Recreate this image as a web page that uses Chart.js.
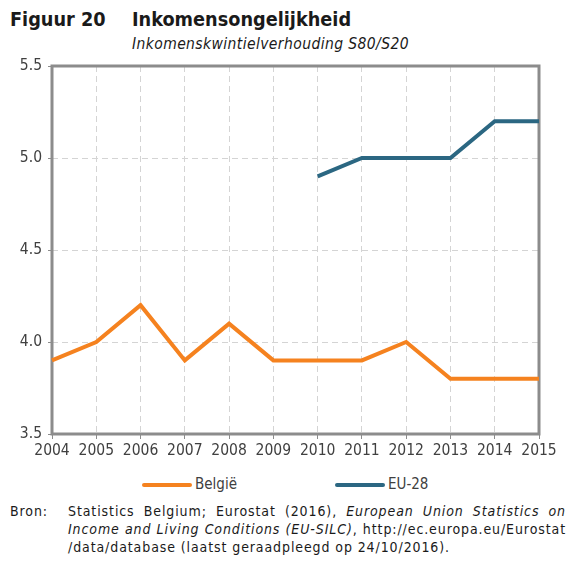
<!DOCTYPE html>
<html>
<head>
<meta charset="utf-8">
<script src="https://cdn.jsdelivr.net/npm/chart.js@4"></script>
<style>
    body { margin: 0; width: 575px; height: 565px; background: #fff; position: relative;
           font-family: "DejaVu Sans Condensed", "DejaVu Sans", sans-serif; color: #1a1a1a; }
    #title { position: absolute; left: 10px; top: 8px; font-size: 19.7px; font-weight: bold; }
    #title span { position: absolute; left: 122px; white-space: nowrap; }
    #subtitle { position: absolute; left: 132px; top: 35px; font-size: 15.5px; font-style: italic;
                white-space: nowrap; letter-spacing: 0.4px; }
    #wrap { position: absolute; left: 0; top: 0; width: 575px; height: 464px; }
    #legend { position: absolute; top: 475px; left: 0; width: 575px; height: 20px; font-size: 15px; color: #404040; }
    #legend .item { position: absolute; top: 0; white-space: nowrap; }
    #legend .sw { display: inline-block; width: 50px; height: 4px; border-radius: 2px; vertical-align: middle; margin-right: 3px; }
    #source { position: absolute; left: 10px; top: 502px; width: 556px; font-size: 14px; line-height: 18px;
              letter-spacing: 0.9px; color: #1a1a1a; }
    #source .lbl { position: absolute; left: 0; top: 0; }
    #source .txt { margin-left: 58px; }
    #source .ln { display: block; white-space: nowrap; }
    #source .j { text-align: justify; text-align-last: justify; white-space: normal; }
</style>
</head>
<body>
<div id="title">Figuur 20<span>Inkomensongelijkheid</span></div>
<div id="subtitle">Inkomenskwintielverhouding S80/S20</div>
<div id="wrap"><canvas id="myChart"></canvas></div>
<div id="legend"></div>
<div id="source">
    <div class="lbl">Bron:</div>
    <div class="txt">
        <span class="ln j">Statistics Belgium; Eurostat (2016), <i>European Union Statistics on</i></span>
        <span class="ln j"><i>Income and Living Conditions (EU-SILC)</i>, http://ec.europa.eu/Eurostat</span>
        <span class="ln">/data/database (laatst geraadpleegd op 24/10/2016).</span>
    </div>
</div>
<script>
// data
const years = ['2004', '2005', '2006', '2007', '2008', '2009', '2010', '2011', '2012', '2013', '2014', '2015'];
const belgie = [3.9, 4.0, 4.2, 3.9, 4.1, 3.9, 3.9, 3.9, 4.0, 3.8, 3.8, 3.8];
const eu28 = [null, null, null, null, null, null, 4.9, 5.0, 5.0, 5.0, 5.2, 5.2];
const seriesNames = ['België', 'EU-28'];

const axisColor = '#8c8c8c';
const gridColor = '#d4d4d4';
const tickColor = '#404040';
const fontFamily = '"DejaVu Sans Condensed", "DejaVu Sans", sans-serif';

// draw the box around the plot area
const frame = {
    id: 'frame',
    beforeDatasetsDraw(chart) {
        const a = chart.chartArea;
        const c = chart.ctx;
        c.save();
        c.strokeStyle = axisColor;
        c.lineWidth = 3;
        c.strokeRect(a.left, a.top, a.right - a.left, a.bottom - a.top);
        c.restore();
    }
};

const ctx = document.getElementById('myChart');
const chart = new Chart(ctx.getContext('2d'), {
    type: 'line',
    data: {
        labels: years,
        datasets: [{
            label: seriesNames[0],
            data: belgie,
            borderColor: '#f5821f',
            borderWidth: 4,
            pointRadius: 0,
            tension: 0
        }, {
            label: seriesNames[1],
            data: eu28,
            borderColor: '#2b6782',
            borderWidth: 4,
            pointRadius: 0,
            tension: 0
        }]
    },
    options: {
        responsive: true,
        maintainAspectRatio: false,
        animation: false,
        layout: { padding: { top: 66, left: 0, right: 0, bottom: 0 } },
        plugins: {
            tooltip: { enabled: false },
            legend: { display: false }
        },
        scales: {
            x: {
                offset: false,
                grid: { color: gridColor, tickLength: 5, tickColor: axisColor },
                border: { display: false, dash: [6, 4] },
                ticks: { color: tickColor, maxRotation: 0, autoSkip: false, padding: 3,
                         font: { family: fontFamily, size: 15.5 } },
                afterFit(scale) { scale.height = 30; }
            },
            y: {
                min: 3.5,
                max: 5.5,
                grid: { color: gridColor, tickLength: 4, tickColor: axisColor },
                border: { display: false, dash: [6, 4] },
                ticks: { stepSize: 0.5, color: tickColor, padding: 6,
                         callback: v => v.toFixed(1),
                         font: { family: fontFamily, size: 15.5 } },
                afterFit(scale) { scale.width = 52; }
            },
            // empty right axis, only keeps room for the last year label
            y2: {
                position: 'right',
                grid: { display: false },
                border: { display: false },
                ticks: { display: false },
                afterFit(scale) { scale.width = 36; }
            }
        }
    },
    plugins: [frame]
});

// legend below the chart, built from the datasets
const legend = document.getElementById('legend');
const legendLeft = [142, 335];
chart.data.datasets.forEach(function (ds, i) {
    const item = document.createElement('div');
    item.className = 'item';
    item.style.left = legendLeft[i] + 'px';
    item.innerHTML = '<span class="sw" style="background:' + ds.borderColor + '"></span>' + ds.label;
    legend.appendChild(item);
});
</script>
</body>
</html>
